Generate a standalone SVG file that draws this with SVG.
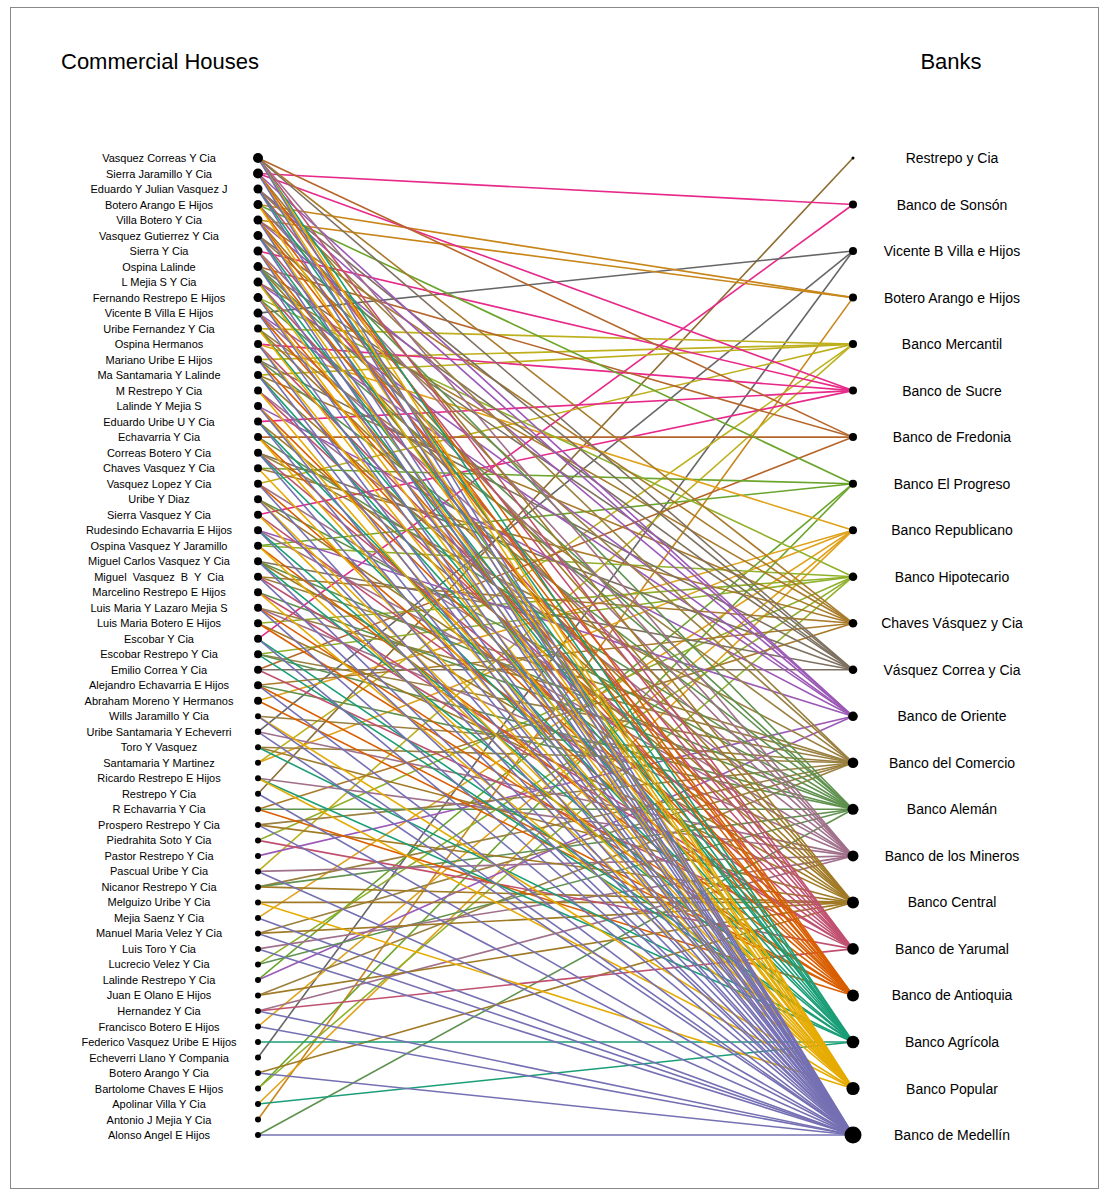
<svg xmlns="http://www.w3.org/2000/svg" width="1108" height="1200" viewBox="0 0 1108 1200">
<style>
text{font-family:"Liberation Sans",Arial,sans-serif;fill:#000}
.t{font-size:22px}
.l{font-size:11px;text-anchor:middle}
.r{font-size:14px;text-anchor:middle}
#edges path{fill:none;stroke-width:1.6}
.b1{stroke:#8c6d31}.b2{stroke:#e7298a}.b3{stroke:#666666}.b4{stroke:#c8861a}.b5{stroke:#bdb01c}.b6{stroke:#e7298a}.b7{stroke:#b5652a}.b8{stroke:#6aa52a}.b9{stroke:#e0a21a}.b10{stroke:#8fb02a}.b11{stroke:#a87a2a}.b12{stroke:#7d7060}.b13{stroke:#9b59b6}.b14{stroke:#9a8040}.b15{stroke:#5f914f}.b16{stroke:#a0708a}.b17{stroke:#a07a25}.b18{stroke:#c05070}.b19{stroke:#d95f02}.b20{stroke:#1b9e77}.b21{stroke:#e6ab02}.b22{stroke:#7570b3}
circle{fill:#000}
</style>
<rect x="10.5" y="7.5" width="1088" height="1181" fill="#fff" stroke="#888" stroke-width="1"/>
<text class="t" x="61" y="69">Commercial Houses</text>
<text class="t" x="951" y="69" text-anchor="middle">Banks</text>
<g id="edges">
<g class="b1"><path d="M258 793.8L853 158"/></g>
<g class="b2"><path d="M258 173.5L853 204.5"/><path d="M258 638.8L853 204.5"/></g>
<g class="b3"><path d="M258 313.1L853 251"/><path d="M258 731.8L853 251"/><path d="M258 1057.5L853 251"/></g>
<g class="b4"><path d="M258 204.5L853 297.6"/><path d="M258 220L853 297.6"/><path d="M258 1119.5L853 297.6"/></g>
<g class="b5"><path d="M258 328.6L853 344.1"/><path d="M258 359.6L853 344.1"/><path d="M258 375.1L853 344.1"/><path d="M258 483.7L853 344.1"/><path d="M258 762.8L853 344.1"/><path d="M258 871.4L853 344.1"/></g>
<g class="b6"><path d="M258 173.5L853 390.6"/><path d="M258 251L853 390.6"/><path d="M258 344.1L853 390.6"/><path d="M258 421.6L853 390.6"/><path d="M258 514.7L853 390.6"/></g>
<g class="b7"><path d="M258 158L853 437.1"/><path d="M258 266.6L853 437.1"/><path d="M258 437.1L853 437.1"/><path d="M258 669.8L853 437.1"/></g>
<g class="b8"><path d="M258 204.5L853 483.7"/><path d="M258 468.2L853 483.7"/><path d="M258 545.7L853 483.7"/><path d="M258 979.9L853 483.7"/><path d="M258 1088.5L853 483.7"/></g>
<g class="b9"><path d="M258 344.1L853 530.2"/><path d="M258 700.8L853 530.2"/><path d="M258 762.8L853 530.2"/><path d="M258 917.9L853 530.2"/><path d="M258 1026.5L853 530.2"/><path d="M258 1104L853 530.2"/></g>
<g class="b10"><path d="M258 297.6L853 576.7"/><path d="M258 545.7L853 576.7"/><path d="M258 623.2L853 576.7"/><path d="M258 654.3L853 576.7"/><path d="M258 840.4L853 576.7"/><path d="M258 964.4L853 576.7"/><path d="M258 1088.5L853 576.7"/></g>
<g class="b11"><path d="M258 158L853 623.2"/><path d="M258 220L853 623.2"/><path d="M258 282.1L853 623.2"/><path d="M258 375.1L853 623.2"/><path d="M258 468.2L853 623.2"/><path d="M258 576.7L853 623.2"/><path d="M258 685.3L853 623.2"/><path d="M258 809.3L853 623.2"/></g>
<g class="b12"><path d="M258 158L853 669.8"/><path d="M258 189L853 669.8"/><path d="M258 235.5L853 669.8"/><path d="M258 266.6L853 669.8"/><path d="M258 359.6L853 669.8"/><path d="M258 452.7L853 669.8"/><path d="M258 561.2L853 669.8"/><path d="M258 669.8L853 669.8"/></g>
<g class="b13"><path d="M258 173.5L853 716.3"/><path d="M258 189L853 716.3"/><path d="M258 220L853 716.3"/><path d="M258 282.1L853 716.3"/><path d="M258 313.1L853 716.3"/><path d="M258 406.1L853 716.3"/><path d="M258 530.2L853 716.3"/><path d="M258 855.9L853 716.3"/><path d="M258 979.9L853 716.3"/></g>
<g class="b14"><path d="M258 189L853 762.8"/><path d="M258 235.5L853 762.8"/><path d="M258 328.6L853 762.8"/><path d="M258 452.7L853 762.8"/><path d="M258 576.7L853 762.8"/><path d="M258 607.7L853 762.8"/><path d="M258 654.3L853 762.8"/><path d="M258 716.3L853 762.8"/><path d="M258 747.3L853 762.8"/><path d="M258 824.9L853 762.8"/><path d="M258 886.9L853 762.8"/><path d="M258 933.4L853 762.8"/><path d="M258 995.4L853 762.8"/></g>
<g class="b15"><path d="M258 204.5L853 809.3"/><path d="M258 266.6L853 809.3"/><path d="M258 297.6L853 809.3"/><path d="M258 359.6L853 809.3"/><path d="M258 437.1L853 809.3"/><path d="M258 499.2L853 809.3"/><path d="M258 561.2L853 809.3"/><path d="M258 592.2L853 809.3"/><path d="M258 654.3L853 809.3"/><path d="M258 685.3L853 809.3"/><path d="M258 809.3L853 809.3"/><path d="M258 886.9L853 809.3"/><path d="M258 964.4L853 809.3"/><path d="M258 1135L853 809.3"/></g>
<g class="b16"><path d="M258 158L853 855.9"/><path d="M258 204.5L853 855.9"/><path d="M258 251L853 855.9"/><path d="M258 313.1L853 855.9"/><path d="M258 390.6L853 855.9"/><path d="M258 483.7L853 855.9"/><path d="M258 530.2L853 855.9"/><path d="M258 607.7L853 855.9"/><path d="M258 731.8L853 855.9"/><path d="M258 778.3L853 855.9"/><path d="M258 871.4L853 855.9"/><path d="M258 948.9L853 855.9"/><path d="M258 1011L853 855.9"/></g>
<g class="b17"><path d="M258 173.5L853 902.4"/><path d="M258 220L853 902.4"/><path d="M258 266.6L853 902.4"/><path d="M258 328.6L853 902.4"/><path d="M258 375.1L853 902.4"/><path d="M258 421.6L853 902.4"/><path d="M258 499.2L853 902.4"/><path d="M258 561.2L853 902.4"/><path d="M258 623.2L853 902.4"/><path d="M258 747.3L853 902.4"/><path d="M258 824.9L853 902.4"/><path d="M258 886.9L853 902.4"/><path d="M258 902.4L853 902.4"/><path d="M258 933.4L853 902.4"/><path d="M258 995.4L853 902.4"/><path d="M258 1073L853 902.4"/></g>
<g class="b18"><path d="M258 158L853 948.9"/><path d="M258 189L853 948.9"/><path d="M258 235.5L853 948.9"/><path d="M258 282.1L853 948.9"/><path d="M258 344.1L853 948.9"/><path d="M258 390.6L853 948.9"/><path d="M258 452.7L853 948.9"/><path d="M258 514.7L853 948.9"/><path d="M258 576.7L853 948.9"/><path d="M258 592.2L853 948.9"/><path d="M258 669.8L853 948.9"/><path d="M258 840.4L853 948.9"/><path d="M258 1011L853 948.9"/></g>
<g class="b19"><path d="M258 173.5L853 995.4"/><path d="M258 204.5L853 995.4"/><path d="M258 220L853 995.4"/><path d="M258 251L853 995.4"/><path d="M258 297.6L853 995.4"/><path d="M258 313.1L853 995.4"/><path d="M258 359.6L853 995.4"/><path d="M258 406.1L853 995.4"/><path d="M258 437.1L853 995.4"/><path d="M258 483.7L853 995.4"/><path d="M258 545.7L853 995.4"/><path d="M258 607.7L853 995.4"/><path d="M258 623.2L853 995.4"/><path d="M258 685.3L853 995.4"/><path d="M258 700.8L853 995.4"/><path d="M258 809.3L853 995.4"/></g>
<g class="b20"><path d="M258 158L853 1042"/><path d="M258 189L853 1042"/><path d="M258 235.5L853 1042"/><path d="M258 266.6L853 1042"/><path d="M258 282.1L853 1042"/><path d="M258 328.6L853 1042"/><path d="M258 375.1L853 1042"/><path d="M258 421.6L853 1042"/><path d="M258 452.7L853 1042"/><path d="M258 530.2L853 1042"/><path d="M258 561.2L853 1042"/><path d="M258 638.8L853 1042"/><path d="M258 654.3L853 1042"/><path d="M258 747.3L853 1042"/><path d="M258 778.3L853 1042"/><path d="M258 1042L853 1042"/><path d="M258 1104L853 1042"/></g>
<g class="b21"><path d="M258 158L853 1088.5"/><path d="M258 173.5L853 1088.5"/><path d="M258 204.5L853 1088.5"/><path d="M258 220L853 1088.5"/><path d="M258 251L853 1088.5"/><path d="M258 282.1L853 1088.5"/><path d="M258 297.6L853 1088.5"/><path d="M258 328.6L853 1088.5"/><path d="M258 344.1L853 1088.5"/><path d="M258 390.6L853 1088.5"/><path d="M258 406.1L853 1088.5"/><path d="M258 437.1L853 1088.5"/><path d="M258 468.2L853 1088.5"/><path d="M258 499.2L853 1088.5"/><path d="M258 514.7L853 1088.5"/><path d="M258 545.7L853 1088.5"/><path d="M258 592.2L853 1088.5"/><path d="M258 716.3L853 1088.5"/><path d="M258 778.3L853 1088.5"/><path d="M258 902.4L853 1088.5"/></g>
<g class="b22"><path d="M258 158L853 1135"/><path d="M258 173.5L853 1135"/><path d="M258 189L853 1135"/><path d="M258 220L853 1135"/><path d="M258 235.5L853 1135"/><path d="M258 251L853 1135"/><path d="M258 266.6L853 1135"/><path d="M258 297.6L853 1135"/><path d="M258 313.1L853 1135"/><path d="M258 344.1L853 1135"/><path d="M258 359.6L853 1135"/><path d="M258 375.1L853 1135"/><path d="M258 406.1L853 1135"/><path d="M258 421.6L853 1135"/><path d="M258 452.7L853 1135"/><path d="M258 483.7L853 1135"/><path d="M258 499.2L853 1135"/><path d="M258 530.2L853 1135"/><path d="M258 561.2L853 1135"/><path d="M258 576.7L853 1135"/><path d="M258 607.7L853 1135"/><path d="M258 638.8L853 1135"/><path d="M258 685.3L853 1135"/><path d="M258 716.3L853 1135"/><path d="M258 731.8L853 1135"/><path d="M258 793.8L853 1135"/><path d="M258 824.9L853 1135"/><path d="M258 871.4L853 1135"/><path d="M258 917.9L853 1135"/><path d="M258 933.4L853 1135"/><path d="M258 948.9L853 1135"/><path d="M258 1011L853 1135"/><path d="M258 1026.5L853 1135"/><path d="M258 1073L853 1135"/><path d="M258 1135L853 1135"/></g>
</g>
<g id="houses">
<g id="h1"><circle cx="258" cy="158" r="5"/><text class="l" x="159" y="162">Vasquez Correas Y Cia</text></g>
<g id="h2"><circle cx="258" cy="173.5" r="5"/><text class="l" x="159" y="177.5">Sierra Jaramillo Y Cia</text></g>
<g id="h3"><circle cx="258" cy="189" r="4.5"/><text class="l" x="159" y="193">Eduardo Y Julian Vasquez J</text></g>
<g id="h4"><circle cx="258" cy="204.5" r="4.5"/><text class="l" x="159" y="208.5">Botero Arango E Hijos</text></g>
<g id="h5"><circle cx="258" cy="220" r="4.5"/><text class="l" x="159" y="224">Villa Botero Y Cia</text></g>
<g id="h6"><circle cx="258" cy="235.5" r="4.5"/><text class="l" x="159" y="239.5">Vasquez Gutierrez Y Cia</text></g>
<g id="h7"><circle cx="258" cy="251" r="4.5"/><text class="l" x="159" y="255">Sierra Y Cia</text></g>
<g id="h8"><circle cx="258" cy="266.6" r="4.5"/><text class="l" x="159" y="270.6">Ospina Lalinde</text></g>
<g id="h9"><circle cx="258" cy="282.1" r="4.5"/><text class="l" x="159" y="286.1">L Mejia S Y Cia</text></g>
<g id="h10"><circle cx="258" cy="297.6" r="4.5"/><text class="l" x="159" y="301.6">Fernando Restrepo E Hijos</text></g>
<g id="h11"><circle cx="258" cy="313.1" r="4.5"/><text class="l" x="159" y="317.1">Vicente B Villa E Hijos</text></g>
<g id="h12"><circle cx="258" cy="328.6" r="4"/><text class="l" x="159" y="332.6">Uribe Fernandez Y Cia</text></g>
<g id="h13"><circle cx="258" cy="344.1" r="4"/><text class="l" x="159" y="348.1">Ospina Hermanos</text></g>
<g id="h14"><circle cx="258" cy="359.6" r="4"/><text class="l" x="159" y="363.6">Mariano Uribe E Hijos</text></g>
<g id="h15"><circle cx="258" cy="375.1" r="4"/><text class="l" x="159" y="379.1">Ma Santamaria Y Lalinde</text></g>
<g id="h16"><circle cx="258" cy="390.6" r="4"/><text class="l" x="159" y="394.6">M Restrepo Y Cia</text></g>
<g id="h17"><circle cx="258" cy="406.1" r="4"/><text class="l" x="159" y="410.1">Lalinde Y Mejia S</text></g>
<g id="h18"><circle cx="258" cy="421.6" r="4"/><text class="l" x="159" y="425.6">Eduardo Uribe U Y Cia</text></g>
<g id="h19"><circle cx="258" cy="437.1" r="4"/><text class="l" x="159" y="441.1">Echavarria Y Cia</text></g>
<g id="h20"><circle cx="258" cy="452.7" r="4"/><text class="l" x="159" y="456.7">Correas Botero Y Cia</text></g>
<g id="h21"><circle cx="258" cy="468.2" r="4"/><text class="l" x="159" y="472.2">Chaves Vasquez Y Cia</text></g>
<g id="h22"><circle cx="258" cy="483.7" r="4"/><text class="l" x="159" y="487.7">Vasquez Lopez Y Cia</text></g>
<g id="h23"><circle cx="258" cy="499.2" r="4"/><text class="l" x="159" y="503.2">Uribe Y Diaz</text></g>
<g id="h24"><circle cx="258" cy="514.7" r="4"/><text class="l" x="159" y="518.7">Sierra Vasquez Y Cia</text></g>
<g id="h25"><circle cx="258" cy="530.2" r="4"/><text class="l" x="159" y="534.2">Rudesindo Echavarria E Hijos</text></g>
<g id="h26"><circle cx="258" cy="545.7" r="4"/><text class="l" x="159" y="549.7">Ospina Vasquez Y Jaramillo</text></g>
<g id="h27"><circle cx="258" cy="561.2" r="4"/><text class="l" x="159" y="565.2">Miguel Carlos Vasquez Y Cia</text></g>
<g id="h28"><circle cx="258" cy="576.7" r="4"/><text class="l" x="159" y="580.7" xml:space="preserve">Miguel  Vasquez  B  Y  Cia</text></g>
<g id="h29"><circle cx="258" cy="592.2" r="4"/><text class="l" x="159" y="596.2">Marcelino Restrepo E Hijos</text></g>
<g id="h30"><circle cx="258" cy="607.7" r="4"/><text class="l" x="159" y="611.7">Luis Maria Y Lazaro Mejia S</text></g>
<g id="h31"><circle cx="258" cy="623.2" r="4"/><text class="l" x="159" y="627.2">Luis Maria Botero E Hijos</text></g>
<g id="h32"><circle cx="258" cy="638.8" r="4"/><text class="l" x="159" y="642.8">Escobar Y Cia</text></g>
<g id="h33"><circle cx="258" cy="654.3" r="4"/><text class="l" x="159" y="658.3">Escobar Restrepo Y Cia</text></g>
<g id="h34"><circle cx="258" cy="669.8" r="4"/><text class="l" x="159" y="673.8">Emilio Correa Y Cia</text></g>
<g id="h35"><circle cx="258" cy="685.3" r="4"/><text class="l" x="159" y="689.3">Alejandro Echavarria E Hijos</text></g>
<g id="h36"><circle cx="258" cy="700.8" r="4"/><text class="l" x="159" y="704.8">Abraham Moreno Y Hermanos</text></g>
<g id="h37"><circle cx="258" cy="716.3" r="3"/><text class="l" x="159" y="720.3">Wills Jaramillo Y Cia</text></g>
<g id="h38"><circle cx="258" cy="731.8" r="3.2"/><text class="l" x="159" y="735.8">Uribe Santamaria Y Echeverri</text></g>
<g id="h39"><circle cx="258" cy="747.3" r="3"/><text class="l" x="159" y="751.3">Toro Y Vasquez</text></g>
<g id="h40"><circle cx="258" cy="762.8" r="3"/><text class="l" x="159" y="766.8">Santamaria Y Martinez</text></g>
<g id="h41"><circle cx="258" cy="778.3" r="3"/><text class="l" x="159" y="782.3">Ricardo Restrepo E Hijos</text></g>
<g id="h42"><circle cx="258" cy="793.8" r="3"/><text class="l" x="159" y="797.8">Restrepo Y Cia</text></g>
<g id="h43"><circle cx="258" cy="809.3" r="3"/><text class="l" x="159" y="813.3">R Echavarria Y Cia</text></g>
<g id="h44"><circle cx="258" cy="824.9" r="3"/><text class="l" x="159" y="828.9">Prospero Restrepo Y Cia</text></g>
<g id="h45"><circle cx="258" cy="840.4" r="3"/><text class="l" x="159" y="844.4">Piedrahita Soto Y Cia</text></g>
<g id="h46"><circle cx="258" cy="855.9" r="3"/><text class="l" x="159" y="859.9">Pastor Restrepo Y Cia</text></g>
<g id="h47"><circle cx="258" cy="871.4" r="3"/><text class="l" x="159" y="875.4">Pascual Uribe Y Cia</text></g>
<g id="h48"><circle cx="258" cy="886.9" r="3"/><text class="l" x="159" y="890.9">Nicanor Restrepo Y Cia</text></g>
<g id="h49"><circle cx="258" cy="902.4" r="3"/><text class="l" x="159" y="906.4">Melguizo Uribe Y Cia</text></g>
<g id="h50"><circle cx="258" cy="917.9" r="3"/><text class="l" x="159" y="921.9">Mejia Saenz Y Cia</text></g>
<g id="h51"><circle cx="258" cy="933.4" r="3"/><text class="l" x="159" y="937.4">Manuel Maria Velez Y Cia</text></g>
<g id="h52"><circle cx="258" cy="948.9" r="3"/><text class="l" x="159" y="952.9">Luis Toro Y Cia</text></g>
<g id="h53"><circle cx="258" cy="964.4" r="3"/><text class="l" x="159" y="968.4">Lucrecio Velez Y Cia</text></g>
<g id="h54"><circle cx="258" cy="979.9" r="3"/><text class="l" x="159" y="983.9">Lalinde Restrepo Y Cia</text></g>
<g id="h55"><circle cx="258" cy="995.4" r="3"/><text class="l" x="159" y="999.4">Juan E Olano E Hijos</text></g>
<g id="h56"><circle cx="258" cy="1011" r="3"/><text class="l" x="159" y="1015">Hernandez Y Cia</text></g>
<g id="h57"><circle cx="258" cy="1026.5" r="3"/><text class="l" x="159" y="1030.5">Francisco Botero E Hijos</text></g>
<g id="h58"><circle cx="258" cy="1042" r="3"/><text class="l" x="159" y="1046">Federico Vasquez Uribe E Hijos</text></g>
<g id="h59"><circle cx="258" cy="1057.5" r="3"/><text class="l" x="159" y="1061.5">Echeverri Llano Y Compania</text></g>
<g id="h60"><circle cx="258" cy="1073" r="3"/><text class="l" x="159" y="1077">Botero Arango Y Cia</text></g>
<g id="h61"><circle cx="258" cy="1088.5" r="3"/><text class="l" x="159" y="1092.5">Bartolome Chaves E Hijos</text></g>
<g id="h62"><circle cx="258" cy="1104" r="3"/><text class="l" x="159" y="1108">Apolinar Villa Y Cia</text></g>
<g id="h63"><circle cx="258" cy="1119.5" r="3"/><text class="l" x="159" y="1123.5">Antonio J Mejia Y Cia</text></g>
<g id="h64"><circle cx="258" cy="1135" r="3"/><text class="l" x="159" y="1139">Alonso Angel E Hijos</text></g>
</g>
<g id="banks">
<g id="k1"><circle cx="853" cy="158" r="1.5"/><text class="r" x="952" y="163">Restrepo y Cia</text></g>
<g id="k2"><circle cx="853" cy="204.5" r="4"/><text class="r" x="952" y="209.5">Banco de Sonsón</text></g>
<g id="k3"><circle cx="853" cy="251" r="4"/><text class="r" x="952" y="256">Vicente B Villa e Hijos</text></g>
<g id="k4"><circle cx="853" cy="297.6" r="4"/><text class="r" x="952" y="302.6">Botero Arango e Hijos</text></g>
<g id="k5"><circle cx="853" cy="344.1" r="4"/><text class="r" x="952" y="349.1">Banco Mercantil</text></g>
<g id="k6"><circle cx="853" cy="390.6" r="4"/><text class="r" x="952" y="395.6">Banco de Sucre</text></g>
<g id="k7"><circle cx="853" cy="437.1" r="4"/><text class="r" x="952" y="442.1">Banco de Fredonia</text></g>
<g id="k8"><circle cx="853" cy="483.7" r="4"/><text class="r" x="952" y="488.7">Banco El Progreso</text></g>
<g id="k9"><circle cx="853" cy="530.2" r="4"/><text class="r" x="952" y="535.2">Banco Republicano</text></g>
<g id="k10"><circle cx="853" cy="576.7" r="4.3"/><text class="r" x="952" y="581.7">Banco Hipotecario</text></g>
<g id="k11"><circle cx="853" cy="623.2" r="4.3"/><text class="r" x="952" y="628.2">Chaves Vásquez y Cia</text></g>
<g id="k12"><circle cx="853" cy="669.8" r="4.3"/><text class="r" x="952" y="674.8">Vásquez Correa y Cia</text></g>
<g id="k13"><circle cx="853" cy="716.3" r="4.8"/><text class="r" x="952" y="721.3">Banco de Oriente</text></g>
<g id="k14"><circle cx="853" cy="762.8" r="5.3"/><text class="r" x="952" y="767.8">Banco del Comercio</text></g>
<g id="k15"><circle cx="853" cy="809.3" r="5.5"/><text class="r" x="952" y="814.3">Banco Alemán</text></g>
<g id="k16"><circle cx="853" cy="855.9" r="5.5"/><text class="r" x="952" y="860.9">Banco de los Mineros</text></g>
<g id="k17"><circle cx="853" cy="902.4" r="6"/><text class="r" x="952" y="907.4">Banco Central</text></g>
<g id="k18"><circle cx="853" cy="948.9" r="5.8"/><text class="r" x="952" y="953.9">Banco de Yarumal</text></g>
<g id="k19"><circle cx="853" cy="995.4" r="6"/><text class="r" x="952" y="1000.4">Banco de Antioquia</text></g>
<g id="k20"><circle cx="853" cy="1042" r="6.3"/><text class="r" x="952" y="1047">Banco Agrícola</text></g>
<g id="k21"><circle cx="853" cy="1088.5" r="6.6"/><text class="r" x="952" y="1093.5">Banco Popular</text></g>
<g id="k22"><circle cx="853" cy="1135" r="8.5"/><text class="r" x="952" y="1140">Banco de Medellín</text></g>
</g>
</svg>
